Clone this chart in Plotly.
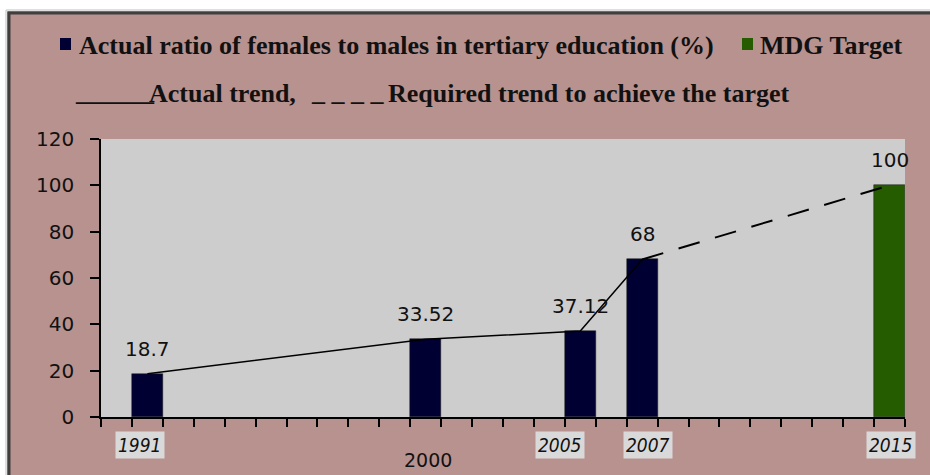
import plotly.graph_objects as go

# ---- data ----
years = list(range(1990, 2016))
actual_years = [1991, 2000, 2005, 2007]
actual_values = [18.7, 33.52, 37.12, 68]
target_years = [2015]
target_values = [100]
required_years = [2007, 2015]
required_values = [68, 100]
label_years_italic = ["1991", "2005", "2007", "2015"]
label_year_plain = "2000"
y_ticks = [0, 20, 40, 60, 80, 100, 120]

# ---- geometry helpers (pixel -> paper) ----
L, R, T, B = 101, 905, 139, 417
W, H = 930, 475
def px(x):
    return (x - L) / (R - L)
def py(y):
    return (B - y) / (B - T)

PINK = "#B8928F"
NAVY = "#000033"
GREEN = "#255C00"

fig = go.Figure()
fig.add_trace(go.Bar(x=actual_years, y=actual_values, width=1.0,
                     marker=dict(color=NAVY, line=dict(color="#1a1a1a", width=0.5)),
                     showlegend=False, hoverinfo="x+y"))
fig.add_trace(go.Bar(x=target_years, y=target_values, width=1.0,
                     marker=dict(color=GREEN, line=dict(color="#1a1a1a", width=0.5)),
                     showlegend=False, hoverinfo="x+y"))
fig.add_trace(go.Scatter(x=actual_years, y=actual_values, mode="lines",
                         line=dict(color="black", width=1.5), showlegend=False))
fig.add_trace(go.Scatter(x=required_years, y=required_values, mode="lines",
                         line=dict(color="black", width=2, dash="22px,16px"), showlegend=False))

ann = []
# data labels
for xv, yv in zip(actual_years + target_years, actual_values + target_values):
    ann.append(dict(x=xv, y=yv, xref="x", yref="y", text=f"{yv:g}", showarrow=False,
                    yshift=25, font=dict(family="DejaVu Sans", size=20, color="#111111")))

def pann(x, y, text, font, xanchor="center", **kw):
    d = dict(x=px(x), y=py(y), xref="paper", yref="paper", text=text, showarrow=False,
             xanchor=xanchor, yanchor="middle", font=font)
    d.update(kw)
    ann.append(d)

# year labels (boxed italic)
year_px = {"1991": 140, "2005": 560, "2007": 648, "2015": 891}
for lab in label_years_italic:
    pann(year_px[lab], 445, lab,
         dict(family="DejaVu Sans Condensed", size=19, color="#111111", style="italic"),
         bgcolor="#D9D9D9", borderpad=2)
pann(428, 460, label_year_plain, dict(family="DejaVu Sans", size=19, color="#111111"))

# legend texts
lf = dict(family="Liberation Serif", size=26, color="#111111")
pann(77, 45, "<b>Actual ratio of females to males in tertiary education (%)</b>", lf, "left")
pann(758, 45, "<b>MDG Target</b>", lf, "left")
pann(73, 91, "<b>______</b>", lf, "left")
pann(147, 94, "<b>Actual trend,</b>", lf, "left")
pann(309, 91, "<b>_ _ _ _</b>", lf, "left")
pann(386, 94, "<b>Required trend to achieve the target</b>", lf, "left")

shapes = [
    # white strips outside the frame
    dict(type="rect", xref="paper", yref="paper", x0=px(-5), x1=px(W + 5), y0=py(11), y1=py(-5),
         fillcolor="white", line=dict(width=0), layer="above"),
    dict(type="rect", xref="paper", yref="paper", x0=px(-5), x1=px(7), y0=py(H + 5), y1=py(-5),
         fillcolor="white", line=dict(width=0), layer="above"),
    # light outer line
    dict(type="line", xref="paper", yref="paper", x0=px(6), x1=px(W + 5), y0=py(10), y1=py(10),
         line=dict(color="#BFBFBF", width=1)),
    dict(type="line", xref="paper", yref="paper", x0=px(6), x1=px(6), y0=py(10), y1=py(H + 5),
         line=dict(color="#BFBFBF", width=1)),
    # dark frame
    dict(type="line", xref="paper", yref="paper", x0=px(8), x1=px(W + 5), y0=py(13), y1=py(13),
         line=dict(color="#3F3F3F", width=3)),
    dict(type="line", xref="paper", yref="paper", x0=px(9), x1=px(9), y0=py(12), y1=py(H + 5),
         line=dict(color="#3F3F3F", width=3)),
    # legend swatches
    dict(type="rect", xref="paper", yref="paper", x0=px(60), x1=px(71), y0=py(50), y1=py(38),
         fillcolor=NAVY, line=dict(width=0)),
    dict(type="rect", xref="paper", yref="paper", x0=px(742), x1=px(753), y0=py(50), y1=py(38),
         fillcolor=GREEN, line=dict(width=0)),
]

fig.update_layout(
    width=W, height=H,
    margin=dict(l=L, r=W - R, t=T, b=H - B),
    paper_bgcolor=PINK, plot_bgcolor="#CDCDCD",
    bargap=0, barmode="overlay",
    annotations=ann, shapes=shapes,
    showlegend=False,
    xaxis=dict(range=[1989.5, 2015.5], tickmode="array",
               tickvals=[y + 0.5 for y in range(1989, 2016)], ticktext=[""] * 27,
               ticks="outside", ticklen=8, tickcolor="black", tickwidth=1.5,
               showline=True, linecolor="black", linewidth=1.5, showgrid=False, zeroline=False,
               fixedrange=True),
    yaxis=dict(range=[0, 120], tickvals=y_ticks, ticks="outside", ticklen=9,
               tickcolor="black", tickwidth=1.5, showline=True, linecolor="black", linewidth=1.5,
               showgrid=False, zeroline=False, ticklabelstandoff=12,
               tickfont=dict(family="DejaVu Sans", size=20, color="#111111"), fixedrange=True),
)

fig.write_html("out.html", config={"displayModeBar": False},
               post_script="document.body.style.margin='0px';")
